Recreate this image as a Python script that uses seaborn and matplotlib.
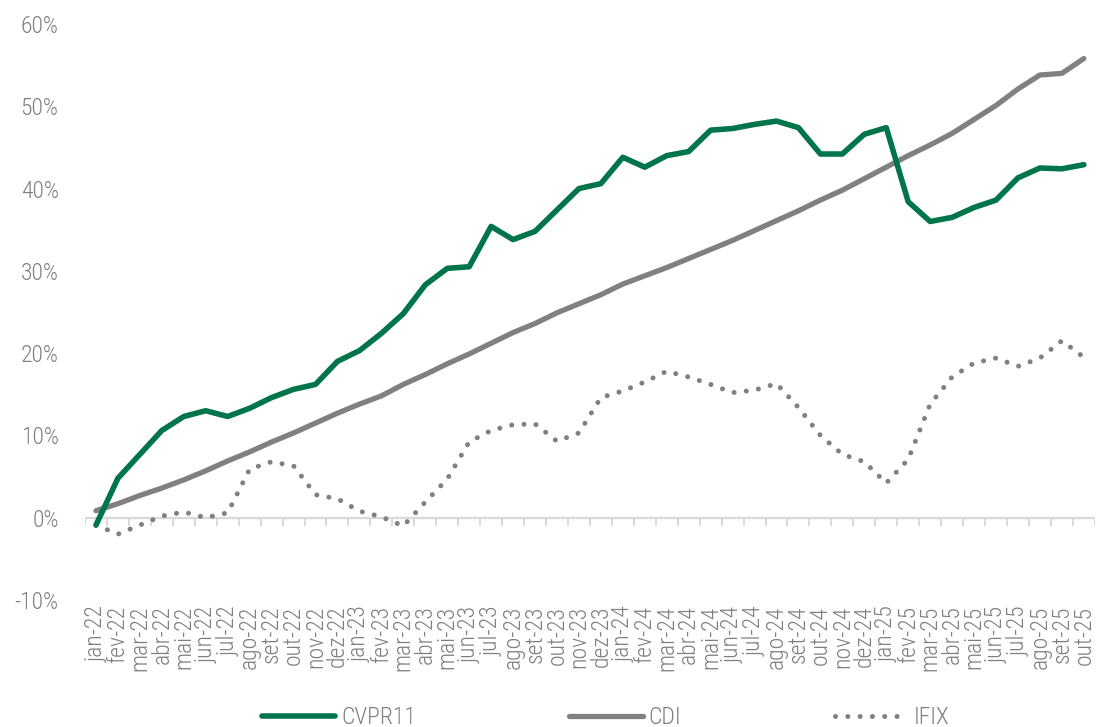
import numpy as np
import pandas as pd
import matplotlib
matplotlib.use("Agg")
import matplotlib.pyplot as plt
import seaborn as sns

months = ["jan-22", "fev-22", "mar-22", "abr-22", "mai-22", "jun-22", "jul-22", "ago-22",
          "set-22", "out-22", "nov-22", "dez-22", "jan-23", "fev-23", "mar-23", "abr-23",
          "mai-23", "jun-23", "jul-23", "ago-23", "set-23", "out-23", "nov-23", "dez-23",
          "jan-24", "fev-24", "mar-24", "abr-24", "mai-24", "jun-24", "jul-24", "ago-24",
          "set-24", "out-24", "nov-24", "dez-24", "jan-25", "fev-25", "mar-25", "abr-25",
          "mai-25", "jun-25", "jul-25", "ago-25", "set-25", "out-25"]

cvpr11 = [-0.9, 4.8, 7.7, 10.6, 12.3, 13.0, 12.3, 13.3, 14.6, 15.6, 16.2, 19.0,
          20.3, 22.4, 24.8, 28.3, 30.3, 30.5, 35.4, 33.8, 34.8, 37.4, 40.0, 40.6,
          43.8, 42.6, 44.0, 44.5, 47.1, 47.3, 47.8, 48.2, 47.4, 44.2, 44.2, 46.6,
          47.4, 38.4, 36.0, 36.5, 37.7, 38.6, 41.3, 42.5, 42.4, 42.9]

cdi = [0.85, 1.7, 2.7, 3.6, 4.6, 5.7, 6.9, 8.0, 9.2, 10.3, 11.5, 12.7,
       13.8, 14.8, 16.2, 17.4, 18.7, 19.9, 21.2, 22.5, 23.6, 24.9, 26.0, 27.1,
       28.4, 29.4, 30.4, 31.5, 32.6, 33.7, 34.9, 36.1, 37.3, 38.6, 39.8, 41.2,
       42.6, 44.0, 45.3, 46.7, 48.4, 50.1, 52.1, 53.8, 54.0, 55.8]

ifix = [-0.9, -2.0, -0.9, 0.2, 0.7, 0.0, 0.6, 5.9, 6.8, 6.3, 2.8, 2.3,
        0.8, 0.1, -1.0, 1.9, 4.7, 9.2, 10.6, 11.3, 11.4, 9.3, 10.3, 14.6,
        15.4, 16.5, 17.8, 17.1, 16.2, 15.2, 15.5, 16.3, 13.4, 10.0, 7.7, 6.8,
        4.2, 7.1, 13.8, 17.1, 18.8, 19.4, 18.4, 19.4, 21.5, 19.5]

yticks = [-10, 0, 10, 20, 30, 40, 50, 60]

GREEN = "#00744B"
GRAY = "#808080"
TEXT = "#7F7F7F"

sns.set_theme(style="white")
plt.rcParams["font.family"] = ["Roboto Condensed", "DejaVu Sans Condensed", "Roboto", "DejaVu Sans"]
plt.rcParams["font.weight"] = "light"

df = pd.DataFrame({"idx": np.arange(len(months)), "CVPR11": cvpr11, "CDI": cdi, "IFIX": ifix})

fig = plt.figure(figsize=(10.97, 7.27), dpi=100)
ax = fig.add_axes([0.0775, 0.1747, 0.9205, 0.7923])

sns.lineplot(data=df, x="idx", y="CDI", ax=ax, color=GRAY, lw=3.8, label="CDI",
             solid_capstyle="round", zorder=3)
sns.lineplot(data=df, x="idx", y="IFIX", ax=ax, color=GRAY, lw=3.6, label="IFIX",
             linestyle=(0, (0.01, 2.45)), dash_capstyle="round", zorder=2)
sns.lineplot(data=df, x="idx", y="CVPR11", ax=ax, color=GREEN, lw=4.0, label="CVPR11",
             solid_capstyle="round", zorder=4)

# zero axis line with category-boundary ticks
ax.axhline(0, color="#D9D9D9", lw=1.6, zorder=1)
ax.vlines(np.arange(len(months) + 1) - 0.5, -1.0, 0, color="#D9D9D9", lw=1.4, zorder=1)

ax.set_xlim(-0.5, len(months) - 0.5)
ax.set_ylim(-10, 60)
ax.set_xticks(np.arange(len(months)))
ax.set_xticklabels(months, rotation=90, fontsize=17, color=TEXT)
ax.set_yticks(yticks)
ax.set_yticklabels([f"{v}%" for v in yticks], fontsize=17, color=TEXT)
ax.tick_params(axis="x", length=0, pad=4)
ax.tick_params(axis="y", length=0, pad=19)
ax.set_xlabel("")
ax.set_ylabel("")
ax.grid(False)
for s in ax.spines.values():
    s.set_visible(False)

handles, labels = ax.get_legend_handles_labels()
order = [labels.index("CVPR11"), labels.index("CDI"), labels.index("IFIX")]
leg = ax.legend([handles[i] for i in order], [labels[i] for i in order],
                loc="center", bbox_to_anchor=(0.552, 0.013), bbox_transform=fig.transFigure,
                ncol=3, frameon=False, fontsize=17, handlelength=3.1, handletextpad=0.25,
                columnspacing=6.5, borderaxespad=0, borderpad=0)
for t in leg.get_texts():
    t.set_color(TEXT)

fig.savefig("out.png", dpi=100)
